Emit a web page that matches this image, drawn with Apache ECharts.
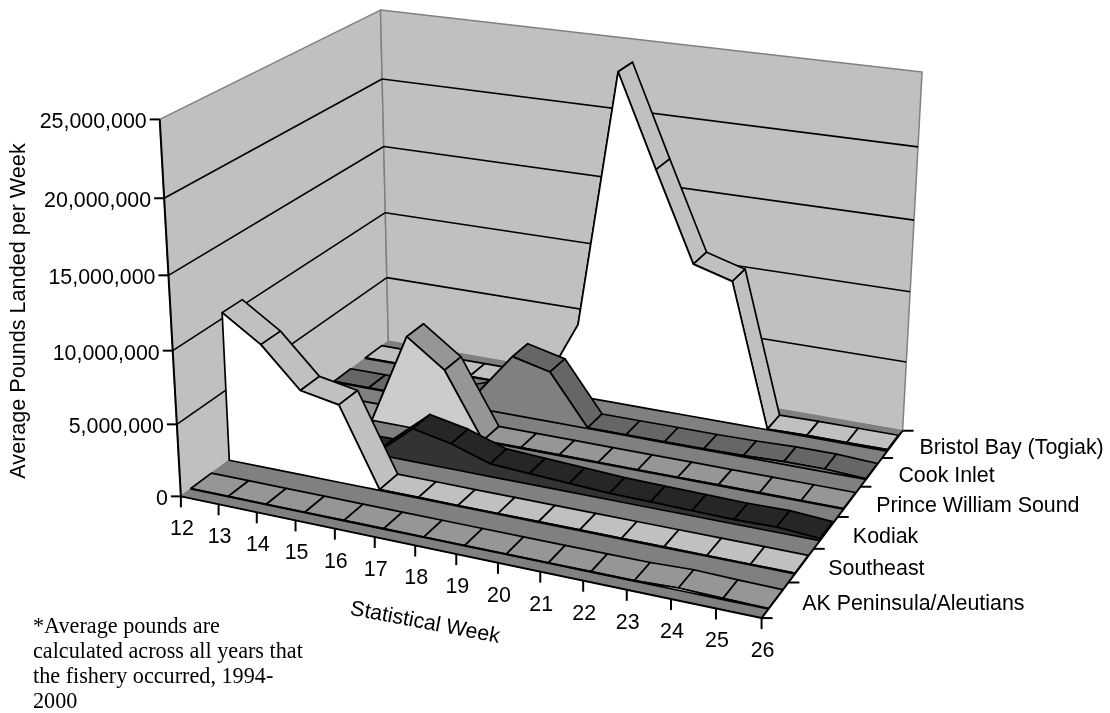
<!DOCTYPE html>
<html>
<head>
<meta charset="utf-8">
<style>html,body{margin:0;background:#fff}#main{width:1110px;height:713px}</style>
<script src="https://cdn.jsdelivr.net/npm/echarts@6/dist/echarts.min.js"></script>
</head>
<body>
<div id="main"></div>
<script>
const weeks = [12, 13, 14, 15, 16, 17, 18, 19, 20, 21, 22, 23, 24, 25, 26]
const regions = ['AK Peninsula/Aleutians', 'Southeast', 'Kodiak', 'Prince William Sound', 'Cook Inlet', 'Bristol Bay (Togiak)']
const yTicks = [0, 5000000, 10000000, 15000000, 20000000, 25000000]
const footnote = ['*Average pounds are', 'calculated across all years that', 'the fishery occurred, 1994-', '2000']

const akPeninsula = [30000, 30000, 30000, 30000, 30000, 30000, 30000, 30000, 30000, 30000, 30000, 40000, 150000, 80000, 30000]
const southeast = [10400000, 8650000, 5950000, 5450000, 60000, 60000, 50000, 50000, 50000, 50000, 50000, 50000, 50000, 50000, 50000]
const kodiak = [50000, 50000, 50000, 60000, 2350000, 1800000, 900000, 750000, 600000, 450000, 400000, 350000, 300000, 350000, 150000]
const princeWilliam = [50000, 50000, 50000, 6600000, 4650000, 50000, 50000, 50000, 50000, 50000, 50000, 50000, 50000, 50000, 50000]
const cookInlet = [50000, 50000, 50000, 60000, 1000000, 4300000, 3650000, 50000, 50000, 60000, 60000, 100000, 200000, 200000, 50000]
const bristolBay = [50000, 50000, 50000, 50000, 50000, 100000, 5350000, 23700000, 17300000, 11050000, 10250000, 50000, 100000, 100000, 100000]
const seriesValues = [akPeninsula, southeast, kodiak, princeWilliam, cookInlet, bristolBay]

// top surface, front face
const ribbonColors = [['#969696', '#ffffff'], ['#c0c0c0', '#ffffff'], ['#262626', '#333333'], ['#969696', '#cccccc'], ['#666666', '#808080'], ['#c0c0c0', '#ffffff']]

const GRID_W = 1000
const GRID_H = 700
const RIBBON_FRONT = 0.25
const RIBBON_BACK = 0.78
const FONT = '21.4px "Liberation Sans", Arial, sans-serif'

// where known spots of the unit box [week, depth, height] sit on the page
const calibration = [
  [0, 0, 0, 181, 497], [1, 0, 0, 761, 618], [0, 1, 0, 388, 342], [0, 0, 1, 160, 120],
  [1, 1, 1, 922, 72], [1, 1, 0, 903, 431], [0, 1, 1, 381, 10],
  [0.5, 0, 0, 457, 555], [1, 0.5, 0, 838, 517], [0, 0, 0.4, 173, 350], [0, 0, 0.8, 163, 198],
  // foot of the ribbons where they reach the floor
  [4 / 14, 1.25 / 6, 0, 380, 490], [5 / 14, 3.25 / 6, 0, 483, 440],
  [7 / 14, 4.25 / 6, 0, 587, 428], [11 / 14, 5.25 / 6, 0, 767, 430]
]

// least squares for the 11 numbers of a perspective camera
function fitCamera(pts) {
  const rows = []
  pts.forEach(([u, v, w, x, y]) => {
    rows.push([u, v, w, 1, 0, 0, 0, 0, -x * u, -x * v, -x * w, x])
    rows.push([0, 0, 0, 0, u, v, w, 1, -y * u, -y * v, -y * w, y])
  })
  const n = 11
  const m = []
  for (let i = 0; i < n; i++) {
    m.push([])
    for (let j = 0; j <= n; j++) {
      m[i].push(rows.reduce((s, r) => s + r[i] * r[j], 0))
    }
  }
  for (let i = 0; i < n; i++) {
    let best = i
    for (let r = i + 1; r < n; r++) if (Math.abs(m[r][i]) > Math.abs(m[best][i])) best = r
    const tmp = m[i]; m[i] = m[best]; m[best] = tmp
    for (let r = 0; r < n; r++) {
      if (r === i) continue
      const f = m[r][i] / m[i][i]
      for (let j = i; j <= n; j++) m[r][j] -= f * m[i][j]
    }
  }
  return m.map((row, i) => row[n] / row[i])
}
const cam = fitCamera(calibration)

function project(u, v, w) {
  const d = cam[8] * u + cam[9] * v + cam[10] * w + 1
  return [
    (cam[0] * u + cam[1] * v + cam[2] * w + cam[3]) / d,
    (cam[4] * u + cam[5] * v + cam[6] * w + cam[7]) / d
  ]
}

// week and pounds go through the axes of the hidden grid, depth is the region slot
function point(api, week, depth, pounds) {
  const c = api.coord([week, pounds])
  return project(c[0] / GRID_W, depth / regions.length, 1 - c[1] / GRID_H)
}

function poly(points, fill, stroke, lineWidth) {
  return { type: 'polygon', shape: { points }, style: { fill, stroke, lineWidth: lineWidth || 1.7, lineJoin: 'round' } }
}
function line(a, b, stroke, lineWidth) {
  return { type: 'line', shape: { x1: a[0], y1: a[1], x2: b[0], y2: b[1] }, style: { stroke, lineWidth: lineWidth || 1.6 } }
}
function label(text, x, y, align) {
  return { type: 'text', x, y, style: { text, x: 0, y: 0, font: FONT, fill: '#000', align, verticalAlign: 'middle' } }
}

function renderBox(params, api) {
  if (params.dataIndex > 0) return
  const first = weeks[0]
  const last = weeks[weeks.length - 1]
  const n = regions.length
  const top = yTicks[yTicks.length - 1]
  const kids = []
  // walls and floor
  kids.push(poly([point(api, first, 0, 0), point(api, first, n, 0), point(api, first, n, top), point(api, first, 0, top)], '#c0c0c0', '#808080', 1.5))
  kids.push(poly([point(api, first, n, 0), point(api, last, n, 0), point(api, last, n, top), point(api, first, n, top)], '#c0c0c0', '#808080', 1.5))
  kids.push(poly([point(api, first, 0, 0), point(api, last, 0, 0), point(api, last, n, 0), point(api, first, n, 0)], '#808080', '#808080', 1))
  // gridlines
  yTicks.slice(1, -1).forEach(t => {
    kids.push(line(point(api, first, 0, t), point(api, first, n, t), '#000'))
    kids.push(line(point(api, first, n, t), point(api, last, n, t), '#000'))
  })
  // axes and ticks
  kids.push(line(point(api, first, 0, 0), point(api, first, 0, top), '#000', 2))
  kids.push(line(point(api, first, 0, 0), point(api, last, 0, 0), '#000', 2))
  kids.push(line(point(api, last, 0, 0), point(api, last, n, 0), '#000', 2))
  yTicks.forEach(t => {
    const p = point(api, first, 0, t)
    kids.push(line([p[0] - 10, p[1]], p, '#000', 2))
    kids.push(label(t.toLocaleString('en-US'), p[0] - 13, p[1] + 3, 'right'))
  })
  weeks.forEach(week => {
    const p = point(api, week, 0, 0)
    kids.push(line(p, [p[0], p[1] + 11], '#000', 2))
    kids.push(label(String(week), p[0] + 1, p[1] + 33, 'center'))
  })
  regions.forEach((name, i) => {
    const p = point(api, last, i, 0)
    kids.push(line(p, [p[0] + 11, p[1]], '#000', 2))
    const m = point(api, last, i + 0.5, 0)
    kids.push(label(name, m[0] + 27, m[1] + 4, 'left'))
  })
  const t = point(api, last, n, 0)
  kids.push(line(t, [t[0] + 11, t[1]], '#000', 2))
  return { type: 'group', children: kids }
}

function renderRibbon(slot) {
  return function (params, api) {
    if (params.dataIndex > 0) return
    const values = seriesValues[slot]
    const front = values.map((v, k) => point(api, weeks[k], slot + RIBBON_FRONT, v))
    const back = values.map((v, k) => point(api, weeks[k], slot + RIBBON_BACK, v))
    const kids = []
    for (let k = 0; k < values.length - 1; k++) {
      kids.push(poly([front[k], front[k + 1], back[k + 1], back[k]], ribbonColors[slot][0], '#000'))
    }
    const base = weeks.map(wk => point(api, wk, slot + RIBBON_FRONT, 0)).reverse()
    kids.push(poly(front.concat(base), ribbonColors[slot][1], '#000'))
    return { type: 'group', children: kids }
  }
}

const series = [{
  type: 'custom',
  coordinateSystem: 'cartesian2d',
  renderItem: renderBox,
  data: yTicks.map(t => [weeks[0], t]),
  silent: true
}]
seriesValues.slice().reverse().forEach((values, i) => {
  const slot = seriesValues.length - 1 - i
  series.push({
    type: 'custom',
    name: regions[slot],
    coordinateSystem: 'cartesian2d',
    renderItem: renderRibbon(slot),
    data: values.map((v, k) => [weeks[k], v]),
    silent: true,
    z: 3 + i
  })
})

const chart = echarts.init(document.getElementById('main'), null, { renderer: 'canvas' })
chart.setOption({
  animation: false,
  backgroundColor: '#fff',
  grid: { left: 0, top: 0, width: GRID_W, height: GRID_H },
  xAxis: { type: 'value', min: weeks[0], max: weeks[weeks.length - 1], show: false },
  yAxis: { type: 'value', min: 0, max: yTicks[yTicks.length - 1], show: false },
  series,
  graphic: [
    { type: 'text', x: 19, y: 311, rotation: Math.PI / 2, style: { text: 'Average Pounds Landed per Week', font: '21.6px "Liberation Sans", Arial, sans-serif', fill: '#000', align: 'center', verticalAlign: 'middle' } },
    { type: 'text', x: 425, y: 623, rotation: -0.19, style: { text: 'Statistical Week', font: FONT, fill: '#000', align: 'center', verticalAlign: 'middle' } }
  ].concat(footnote.map((t, i) => ({
    type: 'text', x: 33, y: 627 + i * 25, style: { text: t, font: '22.2px "Liberation Serif", serif', fill: '#000', align: 'left', verticalAlign: 'middle' }
  })))
})
</script>
</body>
</html>
